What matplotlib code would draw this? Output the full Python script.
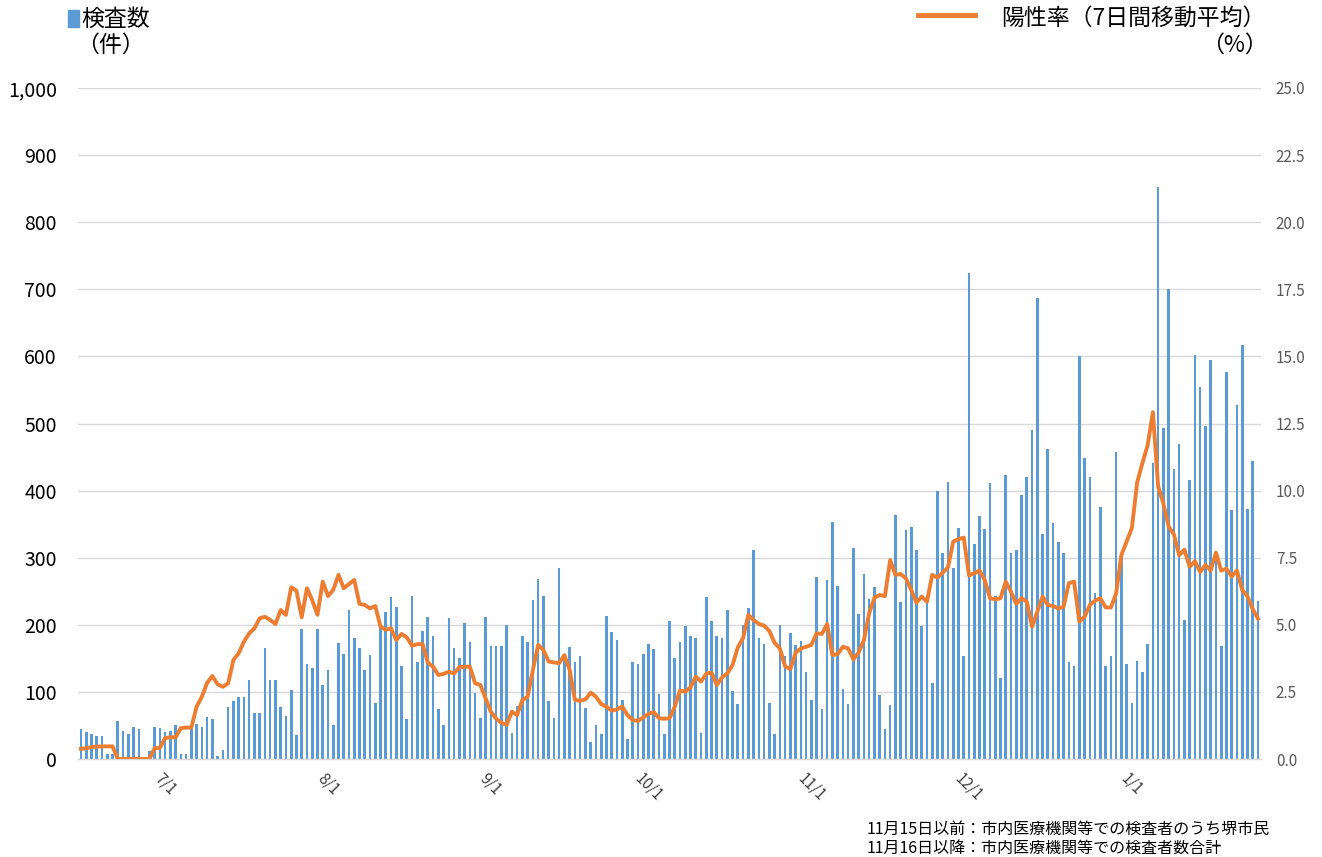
import numpy as np
import matplotlib
matplotlib.use('Agg')
import matplotlib.pyplot as plt
from matplotlib.patches import Rectangle
from matplotlib.lines import Line2D
from matplotlib.ticker import FuncFormatter, MultipleLocator

plt.rcParams['font.family'] = ['Noto Sans CJK JP', 'DejaVu Sans']

# =============================================================================
# データ: 2020/6/15 ~ 2021/1/25 の日次
# =============================================================================
# 検査数（件）
tests = [
    44, 40, 37, 34, 34, 7, 7, 57, 42, 37,
    47, 45, 3, 12, 47, 46, 40, 42, 50, 7,
    7, 46, 52, 47, 62, 59, 5, 14, 77, 87,
    93, 93, 117, 69, 69, 165, 118, 117, 77, 64,
    103, 36, 194, 141, 136, 194, 111, 132, 51, 173,
    156, 222, 181, 165, 132, 155, 83, 196, 219, 241,
    226, 138, 59, 243, 145, 191, 212, 184, 75, 50,
    210, 166, 150, 203, 175, 99, 61, 212, 168, 168,
    169, 199, 39, 79, 183, 174, 237, 268, 243, 87,
    61, 285, 150, 167, 144, 154, 76, 25, 51, 37,
    213, 189, 177, 88, 30, 144, 142, 156, 172, 164,
    97, 37, 205, 150, 175, 198, 183, 180, 39, 241,
    205, 183, 181, 222, 102, 82, 200, 225, 312, 180,
    172, 84, 38, 199, 153, 188, 170, 176, 129, 88,
    271, 75, 267, 353, 258, 105, 82, 315, 216, 276,
    238, 257, 95, 44, 80, 363, 234, 341, 346, 312,
    198, 233, 114, 400, 307, 413, 284, 345, 154, 724,
    320, 362, 343, 412, 243, 121, 423, 307, 311, 393,
    420, 490, 687, 335, 462, 351, 324, 307, 145, 139,
    601, 449, 421, 248, 375, 139, 154, 457, 300, 141,
    84, 146, 130, 171, 441, 852, 493, 700, 432, 470,
    207, 416, 602, 554, 496, 594, 307, 168, 577, 371,
    527, 617, 373, 444, 235,
]

# 陽性率（7日間移動平均, %）
positivity = [
    0.38, 0.40, 0.45, 0.46, 0.47, 0.47, 0.47, 0.0, 0.0, 0.0,
    0.0, 0.0, 0.0, 0.0, 0.40, 0.42, 0.78, 0.81, 0.81, 1.15,
    1.17, 1.17, 1.95, 2.32, 2.84, 3.09, 2.78, 2.69, 2.82, 3.69,
    3.94, 4.37, 4.68, 4.87, 5.24, 5.30, 5.18, 5.03, 5.55, 5.37,
    6.40, 6.27, 5.28, 6.36, 5.92, 5.37, 6.61, 6.07, 6.30, 6.86,
    6.36, 6.52, 6.67, 5.78, 5.74, 5.61, 5.70, 4.93, 4.81, 4.87,
    4.43, 4.66, 4.53, 4.22, 4.28, 4.28, 3.59, 3.44, 3.13, 3.17,
    3.25, 3.19, 3.42, 3.44, 3.44, 2.82, 2.76, 2.26, 1.76, 1.50,
    1.35, 1.27, 1.76, 1.64, 2.20, 2.32, 3.32, 4.25, 4.06, 3.63,
    3.60, 3.57, 3.87, 3.32, 2.20, 2.17, 2.22, 2.47, 2.32, 2.05,
    1.95, 1.80, 1.85, 1.95, 1.64, 1.45, 1.42, 1.55, 1.68, 1.75,
    1.52, 1.50, 1.52, 1.95, 2.55, 2.51, 2.67, 3.07, 2.88, 3.18,
    3.22, 2.76, 3.04, 3.19, 3.50, 4.16, 4.50, 5.37, 5.18, 5.03,
    4.97, 4.77, 4.33, 4.12, 3.45, 3.35, 3.96, 4.12, 4.18, 4.25,
    4.68, 4.66, 5.03, 3.87, 3.91, 4.18, 4.12, 3.71, 3.97, 4.43,
    5.43, 6.01, 6.11, 6.07, 7.41, 6.86, 6.89, 6.73, 6.30, 5.82,
    6.05, 5.86, 6.86, 6.76, 6.94, 7.14, 8.10, 8.19, 8.25, 6.84,
    6.92, 7.02, 6.67, 5.99, 5.95, 5.99, 6.61, 6.23, 5.78, 5.99,
    5.86, 4.93, 5.49, 6.05, 5.74, 5.70, 5.61, 5.67, 6.55, 6.61,
    5.12, 5.30, 5.74, 5.90, 5.99, 5.65, 5.64, 6.17, 7.60, 8.10,
    8.60, 10.30, 11.02, 11.69, 12.92, 10.16, 9.52, 8.66, 8.37, 7.59,
    7.80, 7.16, 7.37, 6.97, 7.23, 7.02, 7.69, 7.02, 7.09, 6.80,
    7.02, 6.30, 6.06, 5.59, 5.23,
]

# 月初の位置（6/15 起点の日数）とラベル
month_pos = [16, 47, 78, 108, 139, 169, 200]
month_labels = ['7/1', '8/1', '9/1', '10/1', '11/1', '12/1', '1/1']

BAR_COLOR = '#5B9BD5'
LINE_COLOR = '#ED7D31'
GRID_COLOR = '#D9D9D9'

W, H = 1322, 857


def fx(px):
    return px / W


def fy(py):
    return 1 - py / H


# =============================================================================
# 描画
# =============================================================================
fig = plt.figure(figsize=(W / 100, H / 100), dpi=100)
ax = fig.add_axes([fx(78.4), fy(759), fx(1260.6) - fx(78.4), fy(88) - fy(759)])

x = np.arange(len(tests))
ax.bar(x, tests, width=0.5, color=BAR_COLOR, zorder=2)
ax.set_xlim(-0.5, len(tests) - 0.5)
ax.set_ylim(0, 1000)
ax.yaxis.set_major_locator(MultipleLocator(100))
ax.yaxis.set_major_formatter(FuncFormatter(lambda v, p: f'{int(v):,}'))
ax.grid(axis='y', color=GRID_COLOR, lw=1.0, zorder=0)
ax.set_axisbelow(True)
# pad はポイント単位（22px ≒ 16pt）
ax.tick_params(axis='y', length=0, pad=15.5, labelsize=14, labelcolor='#000000')

ax.set_xticks(month_pos)
ax.set_xticklabels(month_labels, rotation=-45, ha='center', va='top',
                   fontsize=11, color='#404040')
ax.tick_params(axis='x', length=0, pad=8)

for s in ['top', 'left', 'right']:
    ax.spines[s].set_visible(False)
ax.spines['bottom'].set_color(GRID_COLOR)
ax.spines['bottom'].set_linewidth(1.0)

ax2 = ax.twinx()
ax2.plot(x, positivity, color=LINE_COLOR, lw=2.8, solid_joinstyle='round', zorder=3)
ax2.set_ylim(0, 25)
ax2.yaxis.set_major_locator(MultipleLocator(2.5))
ax2.yaxis.set_major_formatter(FuncFormatter(lambda v, p: f'{v:.1f}'))
ax2.tick_params(axis='y', length=0, pad=11, labelsize=11, labelcolor='#595959')
for s in ['top', 'left', 'right', 'bottom']:
    ax2.spines[s].set_visible(False)

# --- 凡例（上部） ---
fig.patches.append(Rectangle((fx(68), fy(27)), fx(79) - fx(68), fy(10) - fy(27),
                             transform=fig.transFigure, color=BAR_COLOR))
fig.text(fx(81), fy(19), '検査数', fontsize=16.5, ha='left', va='center')
fig.text(fx(76), fy(45), '（件）', fontsize=16.5, ha='left', va='center')

fig.add_artist(Line2D([fx(918), fx(975)], [fy(15), fy(15)],
                      color=LINE_COLOR, lw=3.5, transform=fig.transFigure))
fig.text(fx(1001), fy(18), '陽性率（7日間移動平均）', fontsize=16.5,
         ha='left', va='center')
fig.text(fx(1268), fy(45), '（%）', fontsize=16.5, ha='right', va='center')

# --- 注記 ---
fig.text(fx(867), fy(829), '11月15日以前：市内医療機関等での検査者のうち堺市民',
         fontsize=11.5, ha='left', va='center')
fig.text(fx(867), fy(848), '11月16日以降：市内医療機関等での検査者数合計',
         fontsize=11.5, ha='left', va='center')

fig.savefig('out.png', dpi=100)
